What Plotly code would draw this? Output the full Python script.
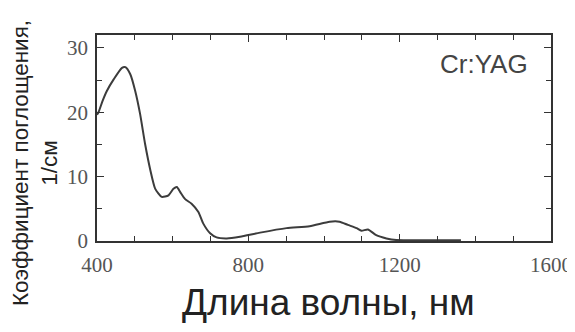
import plotly.graph_objects as go

# Data
wavelength_nm = [400, 404, 415, 426, 444, 466, 475, 488, 501, 514, 527, 541, 554, 571,
                 589, 602, 611, 620, 633, 650, 668, 681, 699, 716, 743, 778, 831, 901,
                 962, 1015, 1041, 1063, 1086, 1099, 1116, 1138, 1165, 1191, 1261, 1362]
absorption = [19.6, 20.0, 21.8, 23.3, 25.1, 26.9, 27.0, 25.9, 23.3, 19.7, 15.1, 11.0, 8.1, 6.85,
              7.1, 8.1, 8.4, 7.6, 6.5, 5.8, 4.5, 2.7, 1.2, 0.56, 0.4, 0.67, 1.3, 2.0,
              2.3, 3.0, 3.0, 2.5, 2.0, 1.6, 1.8, 0.9, 0.4, 0.15, 0.1, 0.1]

x_ticks = [400, 800, 1200, 1600]
y_ticks = [0, 10, 20, 30]
label_text = "Cr:YAG"
x_title = "Длина волны, нм"
y_title = "Коэффициент поглощения,<br>1/см"

fig = go.Figure()
fig.add_trace(go.Scatter(
    x=wavelength_nm, y=absorption, mode="lines",
    line=dict(color="#3c3c3c", width=2, shape="spline", smoothing=0.6),
    showlegend=False, hoverinfo="skip"))

axis_common = dict(
    showline=True, linecolor="#333333", linewidth=1.5, mirror="ticks",
    ticks="inside", ticklen=7, tickwidth=1.3, tickcolor="#333333",
    showgrid=False, zeroline=False, automargin=False,
    tickfont=dict(family="Liberation Serif", size=21, color="#555555"),
)

fig.update_xaxes(range=[400, 1600], tickmode="array", tickvals=x_ticks,
                 ticktext=[str(v) for v in x_ticks], ticklabelstandoff=4,
                 minor=dict(ticks="inside", dtick=100, ticklen=5, tickwidth=1.3,
                            tickcolor="#333333", showgrid=False),
                 **axis_common)
fig.update_yaxes(range=[0, 32], tickmode="array", tickvals=y_ticks,
                 ticktext=[str(v) for v in y_ticks], ticklabelstandoff=3,
                 minor=dict(ticks="inside", dtick=5, ticklen=5, tickwidth=1.3,
                            tickcolor="#333333", showgrid=False),
                 **axis_common)

fig.add_annotation(text=label_text, xref="paper", yref="paper",
                   x=0.954, y=0.86, xanchor="right", yanchor="middle", showarrow=False,
                   font=dict(family="Liberation Sans", size=26, color="#444444"))
fig.add_annotation(text=x_title, xref="paper", yref="paper",
                   x=0.51, y=-0.30, xanchor="center", yanchor="middle", showarrow=False,
                   font=dict(family="Liberation Sans", size=37, color="#222222"))
fig.add_annotation(text=y_title, xref="paper", yref="paper", textangle=-90,
                   x=-0.138, y=0.38, xanchor="center", yanchor="middle", showarrow=False,
                   borderpad=0,
                   font=dict(family="Liberation Sans", size=22.5, color="#222222"))

# the page places the figure 8 px in from the top-left corner, so the margins compensate
fig.update_layout(
    width=575, height=332,
    margin=dict(l=89, r=32, t=27, b=99),
    paper_bgcolor="white", plot_bgcolor="white",
)

fig.write_html("out.html")
